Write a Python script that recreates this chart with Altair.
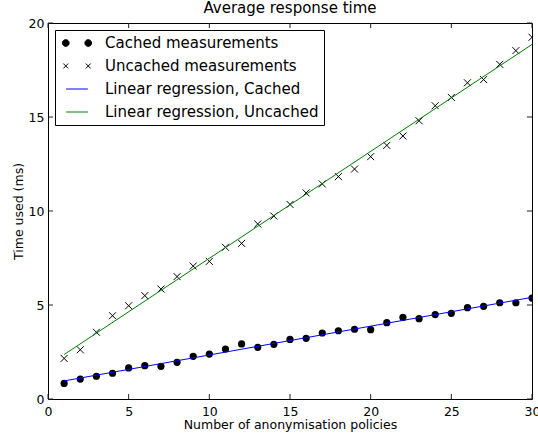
import altair as alt
import pandas as pd

# ---- data ----
policies = list(range(1, 31))
cached = [0.83, 1.06, 1.21, 1.37, 1.65, 1.77, 1.74, 1.95, 2.27, 2.39,
          2.66, 2.93, 2.75, 2.91, 3.17, 3.23, 3.51, 3.63, 3.71, 3.69,
          4.06, 4.34, 4.27, 4.49, 4.56, 4.86, 4.93, 5.12, 5.12, 5.37]
uncached = [2.16, 2.62, 3.55, 4.43, 4.96, 5.50, 5.85, 6.51, 7.07, 7.32,
            8.07, 8.28, 9.31, 9.73, 10.35, 10.96, 11.44, 11.83, 12.23, 12.89,
            13.49, 13.99, 14.80, 15.60, 16.04, 16.82, 16.99, 17.80, 18.53, 19.24]
series_labels = ["Cached measurements", "Uncached measurements",
                 "Linear regression, Cached", "Linear regression, Uncached"]
series_colors = ["black", "black", "#0000ff", "#008000"]
x_ticks = [0, 5, 10, 15, 20, 25, 30]
y_ticks = [0, 5, 10, 15, 20]

FONT = "DejaVu Sans"
W, H = 484, 376

meas = pd.DataFrame({
    "x": policies * 2,
    "t": cached + uncached,
    "series": [series_labels[0]] * len(policies) + [series_labels[1]] * len(policies),
})
xt = pd.DataFrame({"x": x_ticks})
yt = pd.DataFrame({"t": y_ticks})

# legend symbol paths (unit coordinates)
circ = ("M1.05,0A0.45,0.45,0,1,1,1.95,0A0.45,0.45,0,1,1,1.05,0Z"
        "M-1.95,0A0.45,0.45,0,1,1,-1.05,0A0.45,0.45,0,1,1,-1.95,0Z")
crs = ("M1.17,-0.33L1.83,0.33M1.17,0.33L1.83,-0.33"
       "M-1.83,-0.33L-1.17,0.33M-1.83,0.33L-1.17,-0.33")
ln = "M-1.45,0L1.45,0"
lab_arr = "[" + ",".join("'" + s + "'" for s in series_labels) + "]"
idx = "indexof(" + lab_arr + ", datum.value)"
shape_sig = "['" + circ + "','" + crs + "','" + ln + "','" + ln + "'][" + idx + "]"

legend = alt.Legend(
    title=None, orient="top-left", offset=7, padding=5,
    strokeColor="black", fillColor="white", cornerRadius=0,
    symbolSize=225, symbolOffset=9, labelOffset=20, rowPadding=7,
    symbolStrokeWidth=1, symbolOpacity=1,
    symbolType=alt.ExprRef(expr=shape_sig),
    labelFont=FONT, labelFontSize=15, labelColor="black", labelLimit=0,
)

axis_style = dict(
    tickSize=0, domain=False, grid=False, labelFlush=False, labelOverlap=False,
    labelFont=FONT, labelFontSize=12.5, labelColor="black",
    titleFont=FONT, titleFontSize=12.5, titleColor="black", titleFontWeight="normal",
)
xscale = alt.Scale(domain=[0, 30], nice=False, zero=False)
yscale = alt.Scale(domain=[0, 20], nice=False, zero=False)
xaxis = alt.Axis(values=x_ticks, labelPadding=6,
                 title="Number of anonymisation policies", titlePadding=1, **axis_style)
yaxis = alt.Axis(values=y_ticks, labelPadding=4,
                 title="Time used (ms)", titlePadding=3, **axis_style)
X = alt.X("x:Q", scale=xscale, axis=xaxis)
Y = alt.Y("t:Q", scale=yscale, axis=yaxis)
color = alt.Color("label:N", scale=alt.Scale(domain=series_labels, range=series_colors),
                  legend=legend)

base = alt.Chart(meas).transform_calculate(label="datum.series")

dots = base.transform_filter(alt.datum.series == series_labels[0]).mark_point(
    filled=True, shape="circle", size=52, opacity=1, clip=True
).encode(x=X, y=Y, color=color)

crosses = base.transform_filter(alt.datum.series == series_labels[1]).mark_point(
    filled=False, shape="M-1,-1L1,1M-1,1L1,-1", size=49, strokeWidth=1, opacity=1, clip=True
).encode(x=X, y=Y, color=color)

lines = alt.Chart(meas).transform_regression(
    "x", "t", groupby=["series"], extent=[1, 30]
).transform_calculate(
    label="datum.series == 'Cached measurements' ? 'Linear regression, Cached' : 'Linear regression, Uncached'"
).mark_line(strokeWidth=1, clip=True).encode(
    x=X, y=Y, color=color, detail="label:N",
)

tick_color = "#222222"
xt_bottom = alt.Chart(xt).mark_rule(color=tick_color, strokeWidth=1).encode(
    x=X, y=alt.value(H), y2=alt.value(H - 5))
xt_top = alt.Chart(xt).mark_rule(color=tick_color, strokeWidth=1).encode(
    x=X, y=alt.value(0), y2=alt.value(5))
yt_left = alt.Chart(yt).mark_rule(color=tick_color, strokeWidth=1).encode(
    y=Y, x=alt.value(0), x2=alt.value(5))
yt_right = alt.Chart(yt).mark_rule(color=tick_color, strokeWidth=1).encode(
    y=Y, x=alt.value(W), x2=alt.value(W - 5))

chart = alt.layer(
    dots, crosses, lines, xt_bottom, xt_top, yt_left, yt_right
).properties(
    width=W, height=H,
    title=alt.TitleParams("Average response time", font=FONT, fontSize=15,
                          fontWeight="normal", color="black", offset=1,
                          anchor="middle", frame="group"),
    padding={"left": 48, "top": 23, "right": 6, "bottom": 35},
    autosize="none",
    background="white",
).configure_view(
    stroke="black", strokeWidth=1
)

chart.save("out.html", embed_options={"renderer": "svg", "actions": False})
